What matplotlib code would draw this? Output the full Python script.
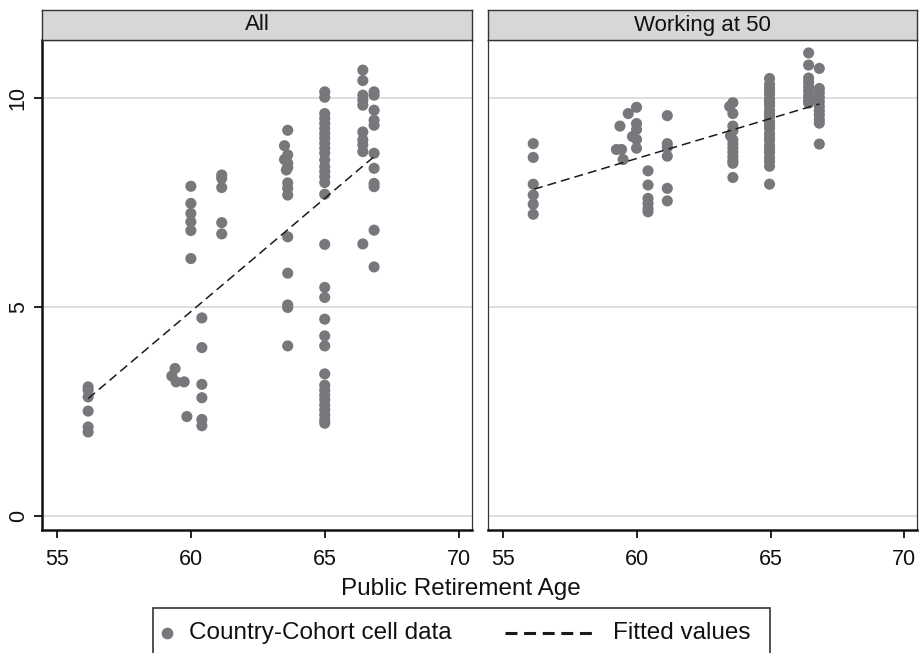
import matplotlib
matplotlib.use("Agg")
import matplotlib.pyplot as plt
from matplotlib.lines import Line2D
from matplotlib.patches import Rectangle

plt.rcParams["font.family"] = ["Liberation Sans", "DejaVu Sans"]
plt.rcParams["lines.scale_dashes"] = False

# ---- country-cohort cells: public retirement age vs outcome ----
x_all = ([56.16] * 6
         + [59.40, 59.28, 59.44, 59.74, 59.84]
         + [59.99] * 6
         + [60.40] * 6
         + [61.14] * 5
         + [63.60, 63.48, 63.60, 63.48, 63.60, 63.60, 63.55, 63.60, 63.60, 63.60,
            63.60, 63.60, 63.60, 63.60, 63.60]
         + [64.98] * 33
         + [66.40] * 10
         + [66.82] * 11)
y_all = ([3.09, 3.01, 2.85, 2.51, 2.13, 2.01]
         + [3.53, 3.35, 3.21, 3.21, 2.38]
         + [7.89, 7.48, 7.24, 7.04, 6.83, 6.16]
         + [4.74, 4.03, 3.15, 2.83, 2.31, 2.16]
         + [8.16, 8.08, 7.86, 7.02, 6.75]
         + [9.23, 8.86, 8.64, 8.53, 8.44, 8.34, 8.28, 7.97, 7.84, 7.68,
            6.68, 5.81, 5.05, 4.99, 4.07]
         + [10.15, 10.02, 9.63, 9.51, 9.39, 9.27, 9.15, 9.04, 8.92, 8.80,
            8.68, 8.52, 8.36, 8.24, 8.12, 7.98, 7.70, 6.50, 5.47, 5.23,
            4.71, 4.31, 4.07, 3.40, 3.13, 3.01, 2.89, 2.78, 2.66, 2.54,
            2.42, 2.30, 2.22]
         + [10.67, 10.42, 10.07, 9.95, 9.83, 9.19, 9.00, 8.88, 8.72, 6.51]
         + [10.15, 10.07, 9.71, 9.47, 9.35, 8.68, 8.32, 7.96, 7.88, 6.84, 5.96])

x_work = ([56.13] * 6
          + [59.24, 59.43, 59.49, 59.37, 59.68, 59.84]
          + [59.99] * 5
          + [60.42] * 6
          + [61.14] * 6
          + [63.59, 63.47, 63.59, 63.59, 63.59, 63.50, 63.59, 63.59, 63.59, 63.59,
             63.59, 63.59, 63.59, 63.59]
          + [64.96] * 24
          + [66.42] * 9
          + [66.82] * 11)
y_work = ([8.91, 8.58, 7.94, 7.68, 7.46, 7.22]
          + [8.77, 8.77, 8.53, 9.33, 9.63, 9.08]
          + [9.78, 9.39, 9.25, 9.01, 8.80]
          + [8.26, 7.92, 7.60, 7.48, 7.36, 7.28]
          + [9.58, 8.91, 8.82, 8.61, 7.84, 7.54]
          + [9.89, 9.80, 9.63, 9.33, 9.22, 9.10, 9.00, 8.90, 8.80, 8.70,
             8.60, 8.50, 8.44, 8.10]
          + [10.47, 10.33, 10.24, 10.15, 10.09, 9.98, 9.90, 9.81, 9.70, 9.62,
             9.55, 9.43, 9.36, 9.28, 9.15, 9.05, 8.98, 8.86, 8.79, 8.70,
             8.58, 8.49, 8.37, 7.94]
          + [11.08, 10.79, 10.48, 10.38, 10.27, 10.16, 10.05, 9.95, 9.88]
          + [10.71, 10.23, 10.13, 10.02, 9.91, 9.80, 9.70, 9.60, 9.49, 9.40, 8.90])

# linear fits (endpoints over the observed age range)
fit_x = [56.16, 66.82]
fit_all = [2.81, 8.60]
fit_work = [7.82, 9.86]

panels = ["All", "Working at 50"]
xticks = [55, 60, 65, 70]
yticks = [0, 5, 10]

W, H = 919, 653
dot_color = "#76787c"
line_color = "#1a1a1a"
text_color = "#111111"

fig = plt.figure(figsize=(W / 100, H / 100), dpi=100)


def fx(px):
    return px / W


def fy(py):
    return 1 - py / H


boxes = [(42, 472), (488, 917)]
data = [(x_all, y_all, fit_all), (x_work, y_work, fit_work)]

for i, ((left, right), (xs, ys, fit), title) in enumerate(zip(boxes, data, panels)):
    ax = fig.add_axes([fx(left), fy(530), fx(right - left), (530 - 40) / H])
    ax.scatter(xs, ys, s=64, color=dot_color, edgecolors="none", zorder=3)
    ax.plot(fit_x, fit, color=line_color, lw=1.1, dashes=(6.5, 3.6), zorder=4)

    ax.set_xlim(54.44, 70.47)
    ax.set_ylim(-0.335, 11.39)
    ax.set_xticks(xticks)
    ax.set_yticks(yticks)
    ax.yaxis.grid(True, color="#dedede", lw=1.4)
    ax.set_axisbelow(True)

    for sp in ax.spines.values():
        sp.set_color("#333333")
        sp.set_linewidth(0.9)
    ax.spines["bottom"].set_color("#111111")
    ax.spines["bottom"].set_linewidth(1.8)

    ax.tick_params(axis="x", length=5.8, width=1.3, pad=8, labelsize=15.5,
                   colors=text_color)
    if i == 0:
        ax.spines["left"].set_color("#111111")
        ax.spines["left"].set_linewidth(1.8)
        ax.tick_params(axis="y", length=5.5, width=1.3, pad=4, labelsize=15.5,
                       labelrotation=90, colors=text_color)
        for lab in ax.get_yticklabels():
            lab.set_va("center")
    else:
        ax.tick_params(axis="y", left=False, labelleft=False)

    # panel header strip
    sax = fig.add_axes([fx(left), fy(40), fx(right - left), 30 / H])
    sax.set_facecolor("#d6d7d9")
    sax.set_xticks([])
    sax.set_yticks([])
    for sp in sax.spines.values():
        sp.set_color("#333333")
        sp.set_linewidth(1.0)
    sax.text(0.5, 0.5, title, ha="center", va="center", fontsize=16,
             color=text_color, transform=sax.transAxes)

fig.text(fx(461), fy(589), "Public Retirement Age", ha="center", va="center",
         fontsize=17.5, color=text_color)

# legend box along the bottom edge
fig.add_artist(Rectangle((fx(153), fy(662)), fx(770 - 153), (662 - 608) / H,
                         transform=fig.transFigure, facecolor="white",
                         edgecolor="#333333", lw=1.2))
ly = fy(633)
fig.add_artist(Line2D([fx(167)], [ly], marker="o", markersize=8.4, color=dot_color,
                      markeredgecolor="none", linestyle="none",
                      transform=fig.transFigure))
fig.text(fx(189), ly, "Country-Cohort cell data", ha="left", va="center",
         fontsize=17.5, color=text_color)
fig.add_artist(Line2D([fx(505), fx(598)], [ly, ly], color=line_color, lw=2.2,
                      dashes=(8.6, 4.8), transform=fig.transFigure))
fig.text(fx(613), ly, "Fitted values", ha="left", va="center",
         fontsize=17.5, color=text_color)

fig.savefig("out.png", dpi=100)
